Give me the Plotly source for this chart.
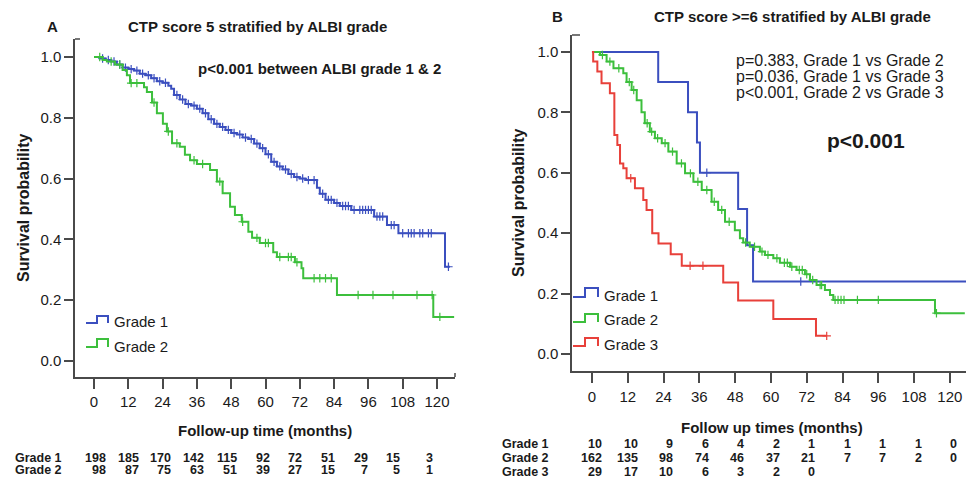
import numpy as np
import plotly.graph_objects as go

W, H = 966, 481

# ---------------- DATA ----------------
risk_times = [0, 12, 24, 36, 48, 60, 72, 84, 96, 108, 120]

# Panel A : CTP score 5
tA1 = [0, 2, 4, 6, 8, 10, 12, 14, 16, 18, 20, 22, 24, 26, 27, 28, 30, 32, 34, 36, 38, 40, 42, 44, 46, 48,
       50, 52, 54, 56, 58, 60, 62, 64, 66, 68, 70, 72, 74, 78, 79, 81, 84, 86, 90, 98, 102.5, 106.5, 122.8, 124.5]
sA1 = [1.0, 0.995, 0.99, 0.985, 0.975, 0.965, 0.96, 0.955, 0.945, 0.94, 0.93, 0.92, 0.915, 0.905, 0.895, 0.875,
       0.86, 0.845, 0.84, 0.83, 0.815, 0.795, 0.78, 0.77, 0.76, 0.75, 0.745, 0.735, 0.73, 0.715, 0.70, 0.68, 0.655,
       0.64, 0.63, 0.615, 0.605, 0.60, 0.595, 0.57, 0.55, 0.53, 0.52, 0.51, 0.497, 0.475, 0.447, 0.42, 0.31, 0.31]
cA1 = [3, 5, 7, 9, 11, 13, 15, 17, 19, 21, 23, 25, 29, 31, 33, 35, 37, 39, 41, 43, 45, 47, 49, 51, 53, 55, 57,
       59, 61, 63, 65, 67, 69, 71, 73, 75, 77, 80, 82, 83, 85, 87, 88, 89, 91, 93, 94, 95, 96, 97, 99, 100, 101,
       104, 105, 108, 110, 111, 112, 114, 115, 117, 118, 124]

tA2 = [0, 3, 4.5, 7.3, 10, 11.5, 12.6, 17.5, 18.5, 20.3, 22, 24.1, 25.5, 27.3, 30, 31.8, 33.6, 36, 40.6, 43,
       45, 47.6, 49.3, 51.7, 54, 55.3, 58, 62.7, 64, 70.3, 72.6, 73.2, 85, 118.7, 126]
sA2 = [1.0, 0.99, 0.985, 0.975, 0.957, 0.94, 0.914, 0.90, 0.885, 0.85, 0.815, 0.78, 0.755, 0.716, 0.705, 0.678,
       0.66, 0.648, 0.628, 0.59, 0.552, 0.507, 0.48, 0.458, 0.425, 0.405, 0.388, 0.358, 0.342, 0.325, 0.305,
       0.272, 0.217, 0.145, 0.145]
cA2 = [2, 6, 9, 13, 15, 21, 26, 29, 35, 38, 44, 52, 57, 60, 61, 65, 68, 69, 71, 77, 79, 81, 83, 92.4, 97.6,
       104.6, 113, 118.3, 121]

riskA_g1 = [198, 185, 170, 142, 115, 92, 72, 51, 29, 15, 3]
riskA_g2 = [98, 87, 75, 63, 51, 39, 27, 15, 7, 5, 1]

# Panel B : CTP score >= 6
tB1 = [0, 22.2, 32.2, 35.2, 36.2, 49, 52, 54, 125.4]
sB1 = [1.0, 0.9, 0.8, 0.7, 0.6, 0.48, 0.36, 0.24, 0.24]
cB1 = [38.5, 70]

tB2 = [0, 2.7, 4.9, 7.2, 10.5, 11.6, 13.3, 15, 16.6, 17.7, 19.4, 21.1, 23.4, 25.6, 28.4, 31.2, 34, 36.8, 40.1,
       42.3, 44.6, 47.9, 49.6, 50.7, 52.9, 56.3, 58, 60.8, 63, 66.4, 68.6, 71.4, 73.1, 75.3, 78.1, 79.8, 80.9,
       115, 125]
sB2 = [1.0, 0.99, 0.968, 0.946, 0.929, 0.90, 0.874, 0.84, 0.80, 0.764, 0.736, 0.714, 0.698, 0.67, 0.631, 0.598,
       0.57, 0.543, 0.504, 0.477, 0.438, 0.41, 0.383, 0.369, 0.355, 0.339, 0.328, 0.317, 0.302, 0.289, 0.278,
       0.264, 0.245, 0.228, 0.212, 0.195, 0.179, 0.135, 0.135]
cB2 = [3.5, 6, 9, 12.5, 14, 18.5, 20, 22, 24.5, 27, 30, 33, 35.5, 38.5, 41, 43.5, 46, 51.5, 54.5, 57, 59, 62,
       64.5, 65.5, 67, 69.5, 70.5, 72, 74, 76.5, 77, 81.5, 82.5, 83.5, 84.5, 89, 96, 115.5]

tB3 = [0, 0.4, 1.8, 3.2, 6, 7.5, 8.5, 9.4, 10.5, 11.6, 14.4, 17.2, 18.3, 20.2, 22.3, 26.4, 30.1, 44, 49,
       60.8, 75.1, 78.7]
sB3 = [1.0, 0.968, 0.935, 0.896, 0.863, 0.725, 0.692, 0.631, 0.615, 0.582, 0.549, 0.51, 0.477, 0.40, 0.366,
       0.33, 0.292, 0.237, 0.177, 0.116, 0.06, 0.06]
cB3 = [13, 32.9, 37.2, 78.7]

riskB_g1 = [10, 10, 9, 6, 4, 2, 1, 1, 1, 1, 0]
riskB_g2 = [162, 135, 98, 74, 46, 37, 21, 7, 7, 2, 0]
riskB_g3 = [29, 17, 10, 6, 3, 2, 0]

grade_labels = ["Grade 1", "Grade 2", "Grade 3"]
BLUE, GREEN, RED = "#3b4fbf", "#3cbf3c", "#e8403a"
AXC = "#4a4a4a"
TXT = "#1a1a1a"
FONT = "Liberation Sans, Arial, sans-serif"
TABLE_FONT = "Liberation Sans, Arial, sans-serif"


def px(x):
    return x / W


def py(y):
    return 1 - y / H


def censor_y(t, s, c):
    t = np.asarray(t, float)
    s = np.asarray(s, float)
    idx = np.searchsorted(t, np.asarray(c, float), side="right") - 1
    return s[np.clip(idx, 0, len(s) - 1)]


fig = go.Figure()


def add_curve(t, s, c, color, xa, ya):
    fig.add_trace(go.Scatter(x=t, y=s, mode="lines", line=dict(color=color, width=2, shape="hv"),
                             xaxis=xa, yaxis=ya, showlegend=False, hoverinfo="skip"))
    fig.add_trace(go.Scatter(x=c, y=censor_y(t, s, c), mode="markers",
                             marker=dict(symbol="cross-thin", size=6, line=dict(color=color, width=1.2)),
                             xaxis=xa, yaxis=ya, showlegend=False, hoverinfo="skip"))


add_curve(tA1, sA1, cA1, BLUE, "x", "y")
add_curve(tA2, sA2, cA2, GREEN, "x", "y")
add_curve(tB1, sB1, cB1, BLUE, "x2", "y2")
add_curve(tB2, sB2, cB2, GREEN, "x2", "y2")
add_curve(tB3, sB3, cB3, RED, "x2", "y2")

axis_common = dict(showgrid=False, zeroline=False, showline=True, linecolor=AXC, linewidth=1.5,
                   ticks="outside", tickcolor=AXC, tickwidth=1.5,
                   tickfont=dict(family=FONT, size=15, color=TXT))

fig.update_layout(
    width=W, height=H, margin=dict(l=0, r=0, t=0, b=0),
    paper_bgcolor="white", plot_bgcolor="white", showlegend=False,
    xaxis=dict(domain=[px(75), px(455)], range=[-6.65, 126.3], anchor="y",
               tickvals=risk_times, ticklen=10, ticklabelstandoff=0, **axis_common),
    yaxis=dict(domain=[py(377), py(39)], range=[-0.0526, 1.059], anchor="x",
               tickvals=[0, 0.2, 0.4, 0.6, 0.8, 1.0], tickformat=".1f", ticklen=9, **axis_common),
    xaxis2=dict(domain=[px(572), 1.0], range=[-6.7, 125.4], anchor="y2",
                tickvals=risk_times, ticklen=10, ticklabelstandoff=1, **axis_common),
    yaxis2=dict(domain=[py(371), py(35)], range=[-0.0563, 1.056], anchor="x2",
                tickvals=[0, 0.2, 0.4, 0.6, 0.8, 1.0], tickformat=".1f", ticklen=9, **axis_common),
)

ann = []


def text(x, y, s, size=15, bold=False, xanchor="center", family=FONT, angle=0):
    ann.append(dict(x=px(x), y=py(y), xref="paper", yref="paper", text=(f"<b>{s}</b>" if bold else s),
                    showarrow=False, xanchor=xanchor, yanchor="middle", textangle=angle,
                    font=dict(family=family, size=size, color=TXT)))


# titles
text(52, 26, "A", 15, True)
text(257, 26, "CTP score 5 stratified by ALBI grade", 15, True)
text(557, 16, "B", 15, True)
text(792, 16, "CTP score >=6 stratified by ALBI grade", 15, True)

# p-values
text(443, 68, "p<0.001 between ALBI grade 1 &amp; 2", 15, True, xanchor="right")
text(946, 60, "p=0.383, Grade 1 vs Grade 2", 16, False, xanchor="right")
text(946, 76, "p=0.036, Grade 1 vs Grade 3", 16, False, xanchor="right")
text(946, 92, "p<0.001, Grade 2 vs Grade 3", 16, False, xanchor="right")
text(866, 140, "p<0.001", 21, True)

# axis titles
text(23, 208, "Survival probability", 16, True, angle=-90)
text(518, 203, "Survival probability", 16, True, angle=-90)
text(265, 430, "Follow-up time (months)", 15, True)
text(772, 427, "Follow up times (months)", 15, True)

# legends (glyph + label)
shapes = []


def legend_item(x0, ylow, yhigh, xmid, x1, color, label, ty):
    path = (f"M {px(x0)},{py(ylow)} H {px(xmid)} V {py(yhigh)} H {px(x1)} V {py(ylow)}")
    shapes.append(dict(type="path", path=path, xref="paper", yref="paper",
                       line=dict(color=color, width=2)))
    text(x1 + 4, ty, label, 15, False, xanchor="left")


legend_item(86, 323, 316, 97, 108, BLUE, grade_labels[0], 321)
legend_item(86, 347, 339, 97, 108, GREEN, grade_labels[1], 346)
legend_item(573, 297, 288, 585, 598, BLUE, grade_labels[0], 295)
legend_item(573, 322, 314, 585, 598, GREEN, grade_labels[1], 319)
legend_item(573, 346, 338, 585, 598, RED, grade_labels[2], 344)

# small frame marks at axis ends
shapes.append(dict(type="line", xref="paper", yref="paper", x0=px(75), x1=px(80), y0=py(39), y1=py(39),
                   line=dict(color=AXC, width=1.5)))
shapes.append(dict(type="line", xref="paper", yref="paper", x0=px(572), x1=px(580), y0=py(35), y1=py(35),
                   line=dict(color=AXC, width=1.5)))
shapes.append(dict(type="line", xref="paper", yref="paper", x0=px(455), x1=px(455), y0=py(377), y1=py(373),
                   line=dict(color=AXC, width=1.5)))

# number at risk tables
rowsA = [(grade_labels[0], riskA_g1, 458), (grade_labels[1], riskA_g2, 470)]
for lab, vals, y in rowsA:
    text(13, y, lab, 12.5, True, xanchor="left", family=TABLE_FONT)
    for i, v in enumerate(vals):
        text(108 + i * 32.7, y, str(v), 12.5, True, xanchor="right", family=TABLE_FONT)

rowsB = [(grade_labels[0], riskB_g1, 444), (grade_labels[1], riskB_g2, 458), (grade_labels[2], riskB_g3, 472)]
for lab, vals, y in rowsB:
    text(500, y, lab, 12.5, True, xanchor="left", family=TABLE_FONT)
    for i, v in enumerate(vals):
        text(604 + i * 35.5, y, str(v), 12.5, True, xanchor="right", family=TABLE_FONT)

fig.update_layout(annotations=ann, shapes=shapes)
fig.write_html("out.html", config={"displayModeBar": False},
               post_script="document.body.style.margin='0';document.body.style.overflow='hidden';")
